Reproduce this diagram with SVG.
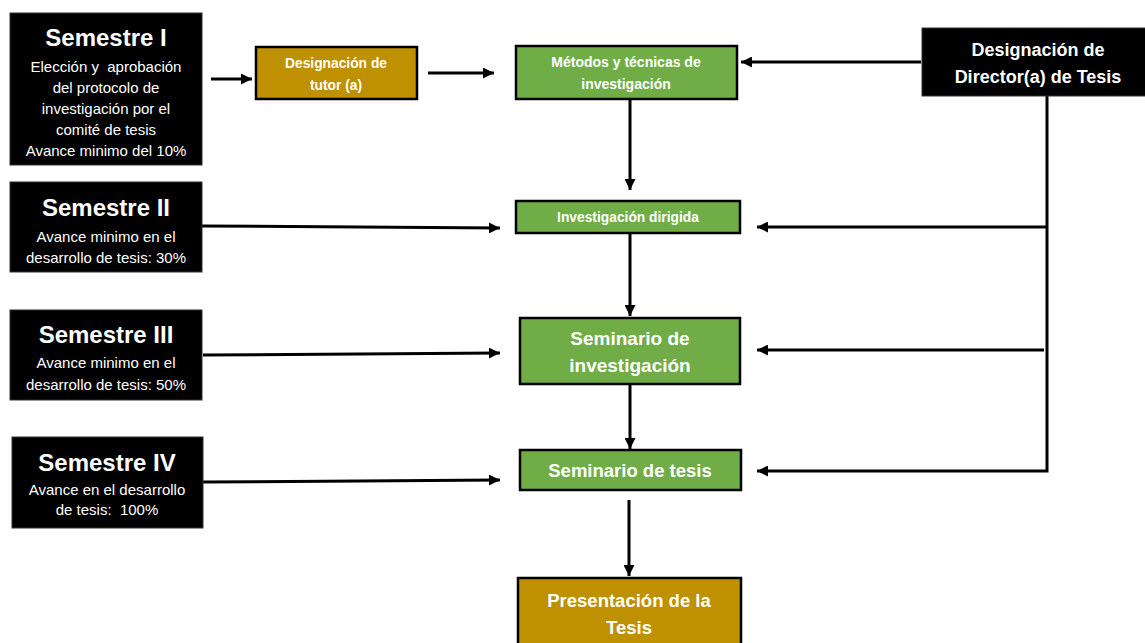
<svg xmlns="http://www.w3.org/2000/svg" width="1145" height="643" viewBox="0 0 1145 643">
<style>
.blk{fill:#000;stroke:#333;stroke-width:1}
.grn{fill:#70AD47;stroke:#000;stroke-width:2.5}
.gold{fill:#BF9000;stroke:#000;stroke-width:2.5}
.t{font-family:"Liberation Sans",Arial,sans-serif;fill:#fff;text-anchor:middle}
.b{font-weight:bold}
.s{font-size:15px}
.pre{white-space:pre}
.c{fill:none;stroke:#000;stroke-width:3}
</style>
<defs>
<marker id="ah" markerUnits="userSpaceOnUse" viewBox="0 0 10 10" refX="10" refY="5" markerWidth="11" markerHeight="11" orient="auto">
<path d="M0,0 L10,5 L0,10 z" fill="#000"/>
</marker>
</defs>
<rect width="1145" height="643" fill="#fff"/>
<g id="connectors">
<path class="c" d="M211,79 L252,79" marker-end="url(#ah)"/>
<path class="c" d="M428,73 L494,73" marker-end="url(#ah)"/>
<path class="c" d="M921,62 L741,62" marker-end="url(#ah)"/>
<path class="c" d="M630,99 L630,190" marker-end="url(#ah)"/>
<path class="c" d="M630,233 L630,316" marker-end="url(#ah)"/>
<path class="c" d="M630,384 L630,449" marker-end="url(#ah)"/>
<path class="c" d="M629,500 L629,576" marker-end="url(#ah)"/>
<path class="c" d="M1047,96 L1047,471 L757,471" marker-end="url(#ah)"/>
<path class="c" d="M1047,227 L757,227" marker-end="url(#ah)"/>
<path class="c" d="M1044,350 L757,350" marker-end="url(#ah)"/>
<path class="c" d="M202,226 L500,228" marker-end="url(#ah)"/>
<path class="c" d="M203,355 L500,353" marker-end="url(#ah)"/>
<path class="c" d="M203,482 L500,480" marker-end="url(#ah)"/>
</g>
<g id="sem1">
<rect class="blk" x="10" y="13" width="192" height="152"/>
<text class="t b" x="106" y="46" font-size="24">Semestre I</text>
<text class="t s pre" x="106" y="72">Elección y  aprobación</text>
<text class="t s" x="106" y="93">del protocolo de</text>
<text class="t s" x="106" y="114">investigación por el</text>
<text class="t s" x="106" y="135">comité de tesis</text>
<text class="t s" x="106" y="156">Avance minimo del 10%</text>
</g>
<g id="tutor">
<rect class="gold" x="256" y="47" width="161" height="52"/>
<text class="t b" x="336" y="68" font-size="13.8">Designación de</text>
<text class="t b" x="336" y="90" font-size="13.8">tutor (a)</text>
</g>
<g id="metodos">
<rect class="grn" x="516" y="46" width="221" height="53"/>
<text class="t b" x="626" y="67" font-size="14">Métodos y técnicas de</text>
<text class="t b" x="626" y="89" font-size="14">investigación</text>
</g>
<g id="director">
<rect class="blk" x="922" y="28" width="240" height="68"/>
<text class="t b" x="1038" y="56" font-size="18">Designación de</text>
<text class="t b" x="1038" y="83" font-size="18">Director(a) de Tesis</text>
</g>
<g id="sem2">
<rect class="blk" x="10" y="182" width="192" height="90"/>
<text class="t b" x="106" y="216" font-size="24">Semestre II</text>
<text class="t s" x="106" y="242">Avance minimo en el</text>
<text class="t s" x="106" y="263">desarrollo de tesis: 30%</text>
</g>
<g id="invdir">
<rect class="grn" x="516" y="201" width="224" height="32"/>
<text class="t b" x="628" y="222" font-size="13.8">Investigación dirigida</text>
</g>
<g id="sem3">
<rect class="blk" x="10" y="310" width="192" height="90"/>
<text class="t b" x="106" y="343" font-size="24">Semestre III</text>
<text class="t s" x="106" y="368">Avance minimo en el</text>
<text class="t s" x="106" y="390">desarrollo de tesis: 50%</text>
</g>
<g id="seminv">
<rect class="grn" x="520" y="318" width="220" height="66"/>
<text class="t b" x="630" y="345" font-size="19">Seminario de</text>
<text class="t b" x="630" y="372" font-size="19">investigación</text>
</g>
<g id="sem4">
<rect class="blk" x="12" y="437" width="191" height="91"/>
<text class="t b" x="107" y="471" font-size="24">Semestre IV</text>
<text class="t s" x="107" y="495">Avance en el desarrollo</text>
<text class="t s pre" x="107" y="515">de tesis:  100%</text>
</g>
<g id="semtesis">
<rect class="grn" x="520" y="450" width="221" height="40"/>
<text class="t b" x="630" y="477" font-size="18.5">Seminario de tesis</text>
</g>
<g id="presentacion">
<rect class="gold" x="518" y="578" width="223" height="75"/>
<text class="t b" x="629" y="607" font-size="18.5">Presentación de la</text>
<text class="t b" x="629" y="634" font-size="18.5">Tesis</text>
</g>
</svg>
